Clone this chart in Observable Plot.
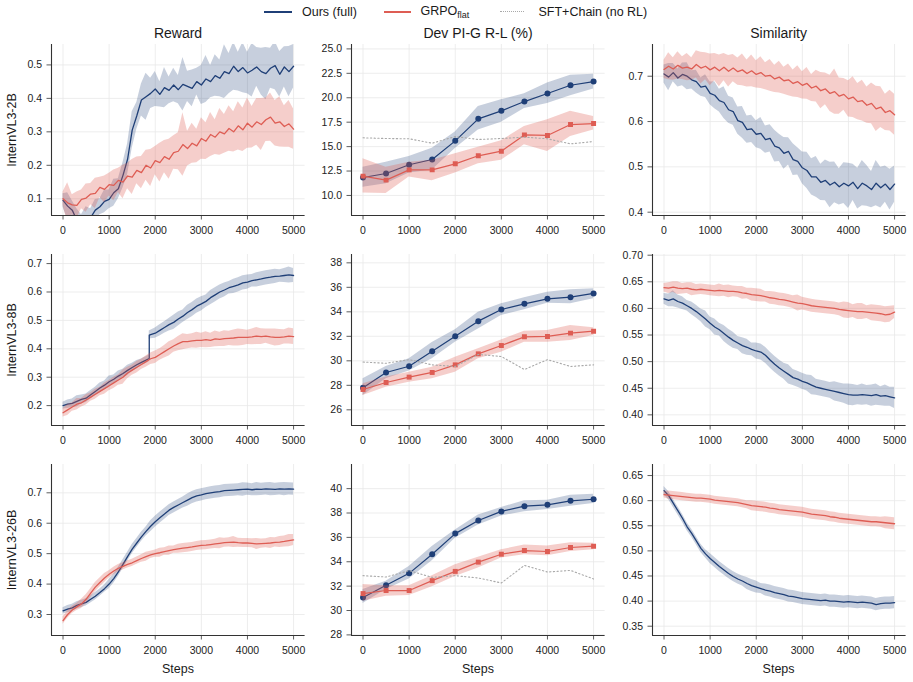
<!DOCTYPE html>
<html><head><meta charset="utf-8">
<script src="https://cdn.jsdelivr.net/npm/d3@7"></script>
<script src="https://cdn.jsdelivr.net/npm/@observablehq/plot@0.6"></script>
<style>
body{margin:0;background:#fff;font-family:"Liberation Sans",Arial,Helvetica,sans-serif;}
#fig{position:relative;width:913px;height:682px;overflow:hidden;background:#fff;}
.abs{position:absolute;white-space:nowrap;color:#1a1a1a;line-height:1.15;}
.title{font-size:14px;transform:translate(-50%,-50%);}
.rowlab{font-size:12.5px;transform:translate(-50%,-50%) rotate(-90deg);}
.xlab{font-size:12.5px;transform:translate(-50%,-50%);}
.leg{font-size:12.5px;transform:translateY(-50%);}
.sw{position:absolute;height:0;}
.panel{position:absolute;}
</style></head><body><div id="fig"></div>
<script>
// ---------------- data ----------------
const steps = [0,100,200,300,400,500,600,700,800,900,1000,1100,1200,1300,1400,1500,1600,1700,1800,1900,2000,2100,2200,2300,2400,2500,2600,2700,2800,2900,3000,3100,3200,3300,3400,3500,3600,3700,3800,3900,4000,4100,4200,4300,4400,4500,4600,4700,4800,4900,5000];
const stepsJump = [0,100,200,300,400,500,600,700,800,900,1000,1100,1200,1300,1400,1500,1600,1700,1800,1870,1870,1900,2000,2100,2200,2300,2400,2500,2600,2700,2800,2900,3000,3100,3200,3300,3400,3500,3600,3700,3800,3900,4000,4100,4200,4300,4400,4500,4600,4700,4800,4900,5000];
const devSteps = [0,500,1000,1500,2000,2500,3000,3500,4000,4500,5000];
const xTicks = [0,1000,2000,3000,4000,5000];

const columnTitles = ["Reward", "Dev PI-G R-L (%)", "Similarity"];
const rowLabels = ["InternVL3-2B", "InternVL3-8B", "InternVL3-26B"];
const seriesNames = ["Ours (full)", "GRPO", "SFT+Chain (no RL)"];

// Reward, InternVL3-2B
const reward2bOurs = [0.095,0.078,0.066,0.036,0.030,0.040,0.044,0.066,0.076,0.092,0.098,0.118,0.130,0.170,0.218,0.305,0.348,0.395,0.405,0.415,0.428,0.412,0.432,0.424,0.440,0.426,0.442,0.436,0.430,0.450,0.440,0.458,0.450,0.468,0.460,0.480,0.474,0.496,0.480,0.492,0.476,0.484,0.494,0.480,0.474,0.490,0.498,0.472,0.494,0.480,0.496];
const reward2bOursBand = [0.020,0.040,0.028,0.034,0.022,0.036,0.026,0.032,0.024,0.034,0.028,0.040,0.030,0.038,0.046,0.055,0.040,0.048,0.070,0.045,0.052,0.038,0.060,0.040,0.050,0.042,0.080,0.045,0.055,0.040,0.058,0.070,0.048,0.062,0.055,0.080,0.060,0.072,0.058,0.075,0.062,0.080,0.058,0.070,0.078,0.060,0.072,0.068,0.060,0.075,0.065];
const reward2bGrpo = [0.100,0.088,0.082,0.080,0.098,0.102,0.114,0.116,0.134,0.128,0.142,0.140,0.155,0.150,0.168,0.165,0.185,0.178,0.200,0.192,0.214,0.208,0.226,0.218,0.238,0.242,0.262,0.250,0.266,0.258,0.280,0.272,0.292,0.284,0.300,0.294,0.310,0.300,0.318,0.306,0.326,0.314,0.330,0.322,0.336,0.344,0.326,0.330,0.316,0.324,0.308];
const reward2bGrpoBand = [0.020,0.060,0.030,0.040,0.028,0.042,0.032,0.045,0.030,0.040,0.034,0.046,0.036,0.050,0.038,0.052,0.040,0.048,0.045,0.055,0.042,0.058,0.048,0.060,0.050,0.055,0.095,0.052,0.060,0.050,0.062,0.055,0.066,0.052,0.070,0.058,0.068,0.060,0.072,0.065,0.075,0.062,0.070,0.078,0.065,0.072,0.068,0.075,0.062,0.070,0.060];

// Similarity, InternVL3-2B
const sim2bOurs = [0.705,0.698,0.708,0.696,0.704,0.700,0.692,0.688,0.676,0.678,0.662,0.658,0.646,0.642,0.626,0.622,0.602,0.598,0.582,0.584,0.572,0.574,0.560,0.563,0.546,0.542,0.530,0.534,0.516,0.512,0.498,0.492,0.478,0.478,0.466,0.470,0.460,0.466,0.456,0.464,0.458,0.466,0.452,0.464,0.458,0.450,0.464,0.454,0.462,0.450,0.462];
const sim2bOursBand = [0.02,0.03,0.02,0.02,0.025,0.03,0.02,0.025,0.02,0.025,0.025,0.03,0.025,0.035,0.03,0.03,0.03,0.035,0.03,0.03,0.03,0.035,0.03,0.03,0.035,0.03,0.035,0.03,0.035,0.03,0.035,0.04,0.04,0.045,0.04,0.045,0.05,0.045,0.04,0.045,0.05,0.04,0.045,0.05,0.045,0.04,0.05,0.045,0.04,0.045,0.04];
const sim2bGrpo = [0.715,0.722,0.716,0.724,0.718,0.720,0.716,0.726,0.718,0.722,0.714,0.720,0.712,0.720,0.711,0.718,0.710,0.714,0.706,0.712,0.704,0.708,0.700,0.702,0.694,0.698,0.690,0.692,0.684,0.688,0.680,0.684,0.674,0.678,0.668,0.672,0.662,0.666,0.656,0.660,0.650,0.654,0.644,0.646,0.636,0.640,0.628,0.632,0.620,0.624,0.615];
const sim2bGrpoBand = [0.02,0.03,0.025,0.03,0.025,0.03,0.025,0.03,0.035,0.03,0.035,0.03,0.035,0.03,0.035,0.03,0.03,0.035,0.03,0.035,0.03,0.035,0.03,0.035,0.03,0.035,0.03,0.035,0.03,0.035,0.03,0.035,0.03,0.035,0.04,0.035,0.04,0.05,0.04,0.035,0.04,0.045,0.04,0.045,0.04,0.045,0.05,0.045,0.04,0.045,0.045];

// Reward, InternVL3-8B (Ours has a jump near step 1870)
const reward8bOurs = [0.200,0.205,0.208,0.215,0.222,0.226,0.238,0.250,0.262,0.272,0.284,0.293,0.304,0.313,0.324,0.334,0.344,0.352,0.360,0.366,0.448,0.450,0.455,0.465,0.475,0.485,0.493,0.505,0.515,0.528,0.538,0.550,0.558,0.567,0.580,0.590,0.600,0.607,0.615,0.620,0.625,0.632,0.635,0.640,0.643,0.646,0.650,0.652,0.655,0.656,0.658,0.660,0.658];
const reward8bOursBand = [0.012,0.015,0.015,0.02,0.015,0.015,0.015,0.015,0.018,0.015,0.02,0.015,0.018,0.015,0.018,0.015,0.015,0.012,0.012,0.012,0.015,0.015,0.018,0.02,0.02,0.022,0.025,0.025,0.022,0.025,0.025,0.025,0.025,0.022,0.025,0.025,0.025,0.025,0.022,0.025,0.025,0.025,0.025,0.022,0.025,0.025,0.025,0.025,0.025,0.022,0.025,0.028,0.025];
const reward8bGrpo = [0.175,0.185,0.195,0.205,0.210,0.220,0.230,0.240,0.250,0.260,0.270,0.280,0.290,0.300,0.315,0.325,0.335,0.345,0.355,0.365,0.370,0.380,0.390,0.400,0.410,0.418,0.425,0.425,0.428,0.430,0.430,0.432,0.430,0.435,0.433,0.436,0.437,0.438,0.440,0.440,0.440,0.442,0.445,0.443,0.445,0.442,0.440,0.440,0.442,0.445,0.443];
const reward8bGrpoBand = [0.015,0.02,0.015,0.02,0.015,0.018,0.015,0.018,0.015,0.02,0.018,0.02,0.018,0.025,0.02,0.018,0.02,0.018,0.02,0.02,0.022,0.02,0.022,0.025,0.022,0.025,0.028,0.025,0.025,0.028,0.025,0.028,0.025,0.028,0.025,0.028,0.025,0.028,0.03,0.028,0.025,0.028,0.03,0.028,0.025,0.028,0.03,0.028,0.025,0.028,0.028];

// Similarity, InternVL3-8B
const sim8bOurs = [0.618,0.615,0.618,0.613,0.610,0.605,0.600,0.594,0.587,0.580,0.572,0.565,0.560,0.553,0.546,0.540,0.535,0.530,0.527,0.523,0.520,0.518,0.512,0.503,0.495,0.488,0.482,0.476,0.470,0.467,0.463,0.460,0.456,0.452,0.450,0.448,0.446,0.444,0.442,0.440,0.438,0.437,0.437,0.438,0.437,0.436,0.438,0.435,0.436,0.434,0.432];
const sim8bOursBand = [0.01,0.012,0.015,0.012,0.012,0.01,0.012,0.012,0.012,0.015,0.012,0.015,0.012,0.015,0.015,0.015,0.012,0.015,0.015,0.012,0.015,0.015,0.015,0.015,0.015,0.015,0.015,0.018,0.015,0.015,0.015,0.015,0.018,0.015,0.015,0.015,0.015,0.018,0.018,0.018,0.02,0.02,0.018,0.02,0.018,0.02,0.02,0.018,0.02,0.018,0.02];
const sim8bGrpo = [0.639,0.638,0.640,0.638,0.637,0.638,0.636,0.635,0.636,0.635,0.634,0.633,0.634,0.633,0.632,0.632,0.631,0.629,0.628,0.626,0.625,0.624,0.622,0.620,0.619,0.617,0.616,0.614,0.612,0.610,0.609,0.607,0.605,0.604,0.603,0.602,0.601,0.600,0.598,0.597,0.596,0.595,0.594,0.594,0.593,0.592,0.591,0.590,0.588,0.589,0.593];
const sim8bGrpoBand = [0.008,0.01,0.01,0.012,0.01,0.01,0.012,0.01,0.01,0.01,0.01,0.01,0.012,0.01,0.012,0.01,0.01,0.012,0.01,0.012,0.012,0.012,0.01,0.012,0.012,0.012,0.012,0.012,0.012,0.015,0.012,0.012,0.012,0.012,0.012,0.012,0.012,0.012,0.012,0.015,0.015,0.012,0.015,0.015,0.012,0.015,0.015,0.015,0.015,0.015,0.012];

// Reward, InternVL3-26B
const reward26bOurs = [0.312,0.318,0.322,0.330,0.335,0.340,0.350,0.360,0.372,0.385,0.400,0.418,0.440,0.465,0.490,0.515,0.535,0.555,0.573,0.590,0.605,0.618,0.630,0.643,0.652,0.660,0.668,0.676,0.684,0.690,0.693,0.697,0.700,0.702,0.704,0.707,0.708,0.709,0.710,0.711,0.712,0.710,0.712,0.711,0.713,0.712,0.711,0.713,0.712,0.713,0.712];
const reward26bOursBand = [0.01,0.012,0.012,0.012,0.012,0.012,0.012,0.012,0.012,0.012,0.015,0.015,0.015,0.015,0.015,0.015,0.015,0.015,0.015,0.018,0.018,0.018,0.018,0.018,0.018,0.018,0.018,0.02,0.02,0.02,0.02,0.02,0.02,0.02,0.02,0.02,0.02,0.02,0.02,0.022,0.02,0.02,0.022,0.02,0.02,0.022,0.02,0.02,0.022,0.02,0.02];
const reward26bGrpo = [0.280,0.300,0.315,0.325,0.335,0.350,0.370,0.390,0.405,0.420,0.432,0.443,0.452,0.458,0.465,0.470,0.477,0.484,0.490,0.496,0.500,0.503,0.507,0.510,0.513,0.516,0.518,0.520,0.522,0.525,0.527,0.528,0.530,0.532,0.534,0.536,0.537,0.538,0.536,0.535,0.535,0.534,0.532,0.533,0.534,0.535,0.537,0.538,0.540,0.543,0.545];
const reward26bGrpoBand = [0.012,0.012,0.012,0.012,0.015,0.015,0.015,0.015,0.015,0.015,0.012,0.012,0.012,0.012,0.012,0.012,0.012,0.012,0.015,0.012,0.012,0.015,0.012,0.015,0.012,0.015,0.015,0.015,0.015,0.015,0.015,0.015,0.015,0.015,0.018,0.015,0.015,0.018,0.015,0.015,0.015,0.015,0.018,0.015,0.015,0.018,0.015,0.018,0.018,0.02,0.018];

// Similarity, InternVL3-26B
const sim26bOurs = [0.620,0.610,0.595,0.580,0.565,0.548,0.535,0.520,0.505,0.494,0.485,0.477,0.469,0.462,0.455,0.449,0.444,0.440,0.435,0.431,0.428,0.425,0.422,0.420,0.417,0.415,0.413,0.410,0.409,0.407,0.405,0.404,0.403,0.402,0.401,0.402,0.400,0.400,0.399,0.398,0.399,0.398,0.397,0.398,0.397,0.396,0.393,0.395,0.396,0.396,0.397];
const sim26bOursBand = [0.008,0.008,0.008,0.008,0.008,0.008,0.008,0.008,0.008,0.008,0.01,0.01,0.01,0.01,0.01,0.01,0.01,0.01,0.012,0.012,0.012,0.01,0.012,0.012,0.012,0.012,0.012,0.012,0.012,0.012,0.012,0.012,0.012,0.012,0.012,0.012,0.012,0.012,0.012,0.012,0.012,0.012,0.012,0.012,0.012,0.012,0.012,0.012,0.012,0.012,0.012];
const sim26bGrpo = [0.612,0.611,0.610,0.609,0.608,0.607,0.606,0.605,0.605,0.604,0.603,0.601,0.600,0.599,0.598,0.597,0.596,0.594,0.592,0.590,0.589,0.588,0.587,0.585,0.584,0.582,0.581,0.580,0.579,0.578,0.577,0.575,0.573,0.572,0.571,0.570,0.568,0.567,0.565,0.564,0.563,0.562,0.561,0.560,0.559,0.558,0.558,0.557,0.556,0.555,0.554];
const sim26bGrpoBand = [0.006,0.008,0.008,0.008,0.008,0.008,0.008,0.008,0.008,0.008,0.008,0.008,0.008,0.008,0.008,0.008,0.008,0.008,0.008,0.01,0.01,0.01,0.01,0.01,0.01,0.01,0.01,0.01,0.01,0.01,0.01,0.01,0.01,0.01,0.01,0.01,0.01,0.01,0.01,0.01,0.01,0.01,0.01,0.01,0.01,0.01,0.01,0.01,0.012,0.012,0.012];

// Dev PI-G R-L (%)
const dev2bOurs = [11.84,12.25,13.14,13.68,15.59,17.84,18.66,19.61,20.43,21.28,21.66];
const dev2bOursLo = [10.85,11.2,12.3,12.6,14.8,16.7,17.5,18.9,19.4,20.2,20.9];
const dev2bOursHi = [12.9,13.4,14.0,14.84,16.5,19.1,19.8,20.4,21.5,22.3,22.4];
const dev2bGrpo = [11.98,11.57,12.62,12.62,13.24,14.06,14.53,16.2,16.14,17.26,17.36];
const dev2bGrpoLo = [10.24,10.2,11.9,11.5,12.3,13.24,13.6,15.2,14.5,16.03,16.7];
const dev2bGrpoHi = [13.75,12.9,13.4,13.6,14.26,14.94,15.6,17.05,17.74,18.62,18.08];
const dev2bSft = [15.9,15.83,15.8,15.35,16.03,15.73,15.83,15.97,15.8,15.28,15.52];

const dev8bOurs = [27.8,29.05,29.56,30.79,32.01,33.24,34.19,34.65,35.06,35.2,35.5];
const dev8bOursLo = [27.17,28.53,29.16,30.16,31.52,32.6,33.7,34.16,34.7,34.65,35.06];
const dev8bOursHi = [28.53,29.54,30.16,31.5,32.53,33.97,34.65,35.14,35.6,35.8,35.88];
const dev8bGrpo = [27.66,28.23,28.67,29.05,29.67,30.57,31.25,31.96,31.99,32.26,32.42];
const dev8bGrpoLo = [27.17,27.85,28.26,28.53,29.07,30.16,30.7,31.52,31.52,31.66,32.07];
const dev8bGrpoHi = [28.12,28.67,29.07,29.48,30.3,30.98,31.71,32.42,32.48,32.88,32.69];
const dev8bSft = [29.9,29.8,30.1,29.67,29.54,30.52,30.35,29.29,30.1,29.54,29.67];

const dev26bOurs = [31.07,32.07,33.05,34.62,36.31,37.39,38.13,38.56,38.67,39.0,39.13];
const dev26bOursLo = [30.58,31.72,32.59,34.08,35.93,37.01,37.75,38.1,38.29,38.56,38.78];
const dev26bOursHi = [31.72,32.4,33.62,35.25,36.6,37.83,38.45,39.0,39.05,39.46,39.54];
const dev26bGrpo = [31.39,31.64,31.64,32.45,33.21,33.97,34.62,34.92,34.84,35.17,35.28];
const dev26bGrpoLo = [30.77,31.18,31.23,31.94,32.8,33.48,34.3,34.57,34.49,34.84,34.98];
const dev26bGrpoHi = [32.13,32.04,32.04,32.86,33.76,34.38,34.98,35.38,35.3,35.57,35.52];
const dev26bSft = [32.86,32.75,33.27,32.72,32.86,32.67,32.26,33.7,33.16,33.29,32.59];

// y tick labels per panel
const reward2bTicks = [0.1,0.2,0.3,0.4,0.5];
const dev2bTicks = [10,12.5,15,17.5,20,22.5,25];
const sim2bTicks = [0.4,0.5,0.6,0.7];
const reward8bTicks = [0.2,0.3,0.4,0.5,0.6,0.7];
const dev8bTicks = [26,28,30,32,34,36,38];
const sim8bTicks = [0.40,0.45,0.50,0.55,0.60,0.65,0.70];
const reward26bTicks = [0.3,0.4,0.5,0.6,0.7];
const dev26bTicks = [28,30,32,34,36,38,40];
const sim26bTicks = [0.35,0.40,0.45,0.50,0.55,0.60,0.65];

// ---------------- layout / style ----------------
const C_OURS = "#1f3f77", C_GRPO = "#de5d54", C_SFT = "#a9a9a9";
const FONT = '"Liberation Sans", Arial, Helvetica, sans-serif';
const colLeft = [0.2, 300.2, 600.8];
const rowFrameTop = [44, 254, 464];
const FRAME_H = 171, MT = 6, MB = 26, ML = 51, PW = 308, MR = PW - ML - 253.6;
const XDOM = [-250, 5250];

const noisy = (s, m, h) => ({s, m, h});
const dev = (m, lo, hi) => ({m, lo, hi});

const panels = [
  {row:0,col:0,kind:"noisy",yDomain:[0.05,0.561],yTicks:reward2bTicks,fmt:".1f",
   ours:noisy(steps,reward2bOurs,reward2bOursBand), grpo:noisy(steps,reward2bGrpo,reward2bGrpoBand)},
  {row:0,col:1,kind:"dev",yDomain:[7.95,25.45],yTicks:dev2bTicks,fmt:".1f",
   ours:dev(dev2bOurs,dev2bOursLo,dev2bOursHi), grpo:dev(dev2bGrpo,dev2bGrpoLo,dev2bGrpoHi), sft:dev2bSft},
  {row:0,col:2,kind:"noisy",yDomain:[0.3927,0.77],yTicks:sim2bTicks,fmt:".1f",
   ours:noisy(steps,sim2bOurs,sim2bOursBand), grpo:noisy(steps,sim2bGrpo,sim2bGrpoBand)},
  {row:1,col:0,kind:"noisy",yDomain:[0.13,0.732],yTicks:reward8bTicks,fmt:".1f",
   ours:noisy(stepsJump,reward8bOurs,reward8bOursBand), grpo:noisy(steps,reward8bGrpo,reward8bGrpoBand)},
  {row:1,col:1,kind:"dev",yDomain:[24.72,38.68],yTicks:dev8bTicks,fmt:"d",
   ours:dev(dev8bOurs,dev8bOursLo,dev8bOursHi), grpo:dev(dev8bGrpo,dev8bGrpoLo,dev8bGrpoHi), sft:dev8bSft},
  {row:1,col:2,kind:"noisy",yDomain:[0.38,0.7013],yTicks:sim8bTicks,fmt:".2f",
   ours:noisy(steps,sim8bOurs,sim8bOursBand), grpo:noisy(steps,sim8bGrpo,sim8bGrpoBand)},
  {row:2,col:0,kind:"noisy",yDomain:[0.231,0.793],yTicks:reward26bTicks,fmt:".1f",
   ours:noisy(steps,reward26bOurs,reward26bOursBand), grpo:noisy(steps,reward26bGrpo,reward26bGrpoBand)},
  {row:2,col:1,kind:"dev",yDomain:[27.95,41.98],yTicks:dev26bTicks,fmt:"d",
   ours:dev(dev26bOurs,dev26bOursLo,dev26bOursHi), grpo:dev(dev26bGrpo,dev26bGrpoLo,dev26bGrpoHi), sft:dev26bSft},
  {row:2,col:2,kind:"noisy",yDomain:[0.3315,0.672],yTicks:sim26bTicks,fmt:".2f",
   ours:noisy(steps,sim26bOurs,sim26bOursBand), grpo:noisy(steps,sim26bGrpo,sim26bGrpoBand)}
];

function noisyMarks(ser, color, bandOpacity) {
  const rows = ser.s.map((s, i) => ({s, m: ser.m[i], lo: ser.m[i] - ser.h[i], hi: ser.m[i] + ser.h[i]}));
  return [
    Plot.areaY(rows, {x: "s", y1: "lo", y2: "hi", fill: color, fillOpacity: bandOpacity, clip: true}),
    Plot.lineY(rows, {x: "s", y: "m", stroke: color, strokeWidth: 1.3, clip: true})
  ];
}
function devMarks(ser, color, bandOpacity, symbol, r) {
  const rows = devSteps.map((s, i) => ({s, m: ser.m[i], lo: ser.lo[i], hi: ser.hi[i]}));
  return [
    Plot.areaY(rows, {x: "s", y1: "lo", y2: "hi", fill: color, fillOpacity: bandOpacity, clip: true}),
    Plot.lineY(rows, {x: "s", y: "m", stroke: color, strokeWidth: 1.2, clip: true}),
    Plot.dot(rows, {x: "s", y: "m", fill: color, stroke: "none", symbol, r, clip: true})
  ];
}

const fig = document.getElementById("fig");

for (const p of panels) {
  const grid = {stroke: "#e9e9e9", strokeOpacity: 1, strokeWidth: 0.8};
  let marks = [Plot.gridX(xTicks, grid), Plot.gridY(p.yTicks, grid)];
  if (p.kind === "noisy") {
    marks = marks.concat(noisyMarks(p.ours, C_OURS, 0.25), noisyMarks(p.grpo, C_GRPO, 0.3));
  } else {
    marks = marks.concat(devMarks(p.ours, C_OURS, 0.25, "circle", 3), devMarks(p.grpo, C_GRPO, 0.3, "square", 2.8));
    marks.push(Plot.lineY(devSteps.map((s, i) => ({s, v: p.sft[i]})), {x: "s", y: "v", stroke: C_SFT, strokeWidth: 1.1, strokeDasharray: "1.3,2.4"}));
  }
  marks.push(
    Plot.ruleX([XDOM[0]], {stroke: "#333", strokeWidth: 1.1}),
    Plot.ruleY([p.yDomain[0]], {stroke: "#333", strokeWidth: 1.1}),
    Plot.axisX(xTicks, {tickSize: 4.5, tickPadding: 7, tickFormat: "d", label: null, stroke: "#333", strokeWidth: 0.8}),
    Plot.axisY(p.yTicks, {tickSize: 4.5, tickPadding: 5, tickFormat: d3.format(p.fmt), label: null, stroke: "#333", strokeWidth: 0.8})
  );
  const svg = Plot.plot({
    width: PW, height: MT + FRAME_H + MB,
    marginLeft: ML, marginRight: MR, marginTop: MT, marginBottom: MB,
    x: {domain: XDOM}, y: {domain: p.yDomain},
    style: {fontFamily: FONT, fontSize: "10.5px", color: "#222", background: "transparent", overflow: "visible"},
    marks
  });
  const wrap = document.createElement("div");
  wrap.className = "panel";
  wrap.style.left = colLeft[p.col] + "px";
  wrap.style.top = (rowFrameTop[p.row] - MT) + "px";
  wrap.style.width = PW + "px";
  wrap.appendChild(svg);
  fig.appendChild(wrap);
}

function addText(html, cls, x, y) {
  const d = document.createElement("div");
  d.className = "abs " + cls;
  d.style.left = x + "px"; d.style.top = y + "px";
  d.innerHTML = html;
  fig.appendChild(d);
}
const colCenter = colLeft.map(l => l + ML + 253.6 / 2);
columnTitles.forEach((t, i) => addText(t, "title", colCenter[i], 33.4));
rowLabels.forEach((t, i) => addText(t, "rowlab", 12, rowFrameTop[i] + FRAME_H / 2));
colCenter.forEach(c => addText("Steps", "xlab", c, 669));

// legend
function swatch(x0, x1, style) {
  const d = document.createElement("div");
  d.className = "sw";
  d.style.left = x0 + "px"; d.style.width = (x1 - x0) + "px"; d.style.top = "11px";
  d.style.borderTop = style;
  fig.appendChild(d);
}
swatch(264, 292, "2px solid " + C_OURS);
swatch(383.5, 410.5, "2px solid " + C_GRPO);
swatch(500, 524, "1.2px dotted " + C_SFT);
addText(seriesNames[0], "leg", 302, 12);
addText(seriesNames[1] + '<sub style="font-size:9px;vertical-align:-3px">flat</sub>', "leg", 420.5, 12);
addText(seriesNames[2], "leg", 538.5, 12);
</script></body></html>
